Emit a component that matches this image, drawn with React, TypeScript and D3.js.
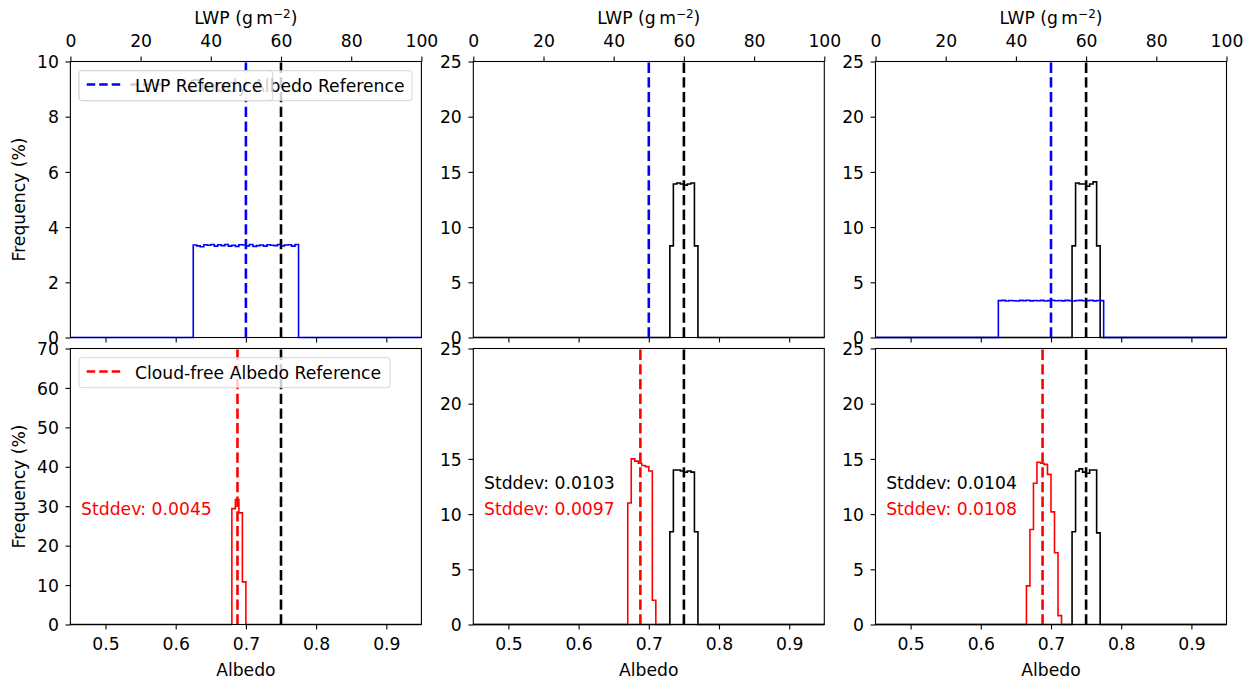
import React, { useEffect, useRef } from "react";
import * as d3 from "d3";

// axis ticks
const albedoTicks = [0.5, 0.6, 0.7, 0.8, 0.9];
const lwpTicks = [0, 20, 40, 60, 80, 100];
const topYTicks = [
  [0, 2, 4, 6, 8, 10],
  [0, 5, 10, 15, 20, 25],
  [0, 5, 10, 15, 20, 25],
];
const bottomYTicks = [
  [0, 10, 20, 30, 40, 50, 60, 70],
  [0, 5, 10, 15, 20, 25],
  [0, 5, 10, 15, 20, 25],
];

// reference lines
const lwpRef = 50;
const albedoRef = 0.75;
const clearRef = 0.688;

// LWP histograms (bins of 1 g m-2 starting at 35)
const lwpStart = 35;
const lwpBin = 1;
const lwpHistA = [
  3.35, 3.32, 3.29, 3.36, 3.34, 3.37, 3.31, 3.36, 3.33, 3.37, 3.31, 3.34, 3.3, 3.36, 3.35,
  3.32, 3.37, 3.3, 3.33, 3.35, 3.31, 3.36, 3.34, 3.33, 3.37, 3.32, 3.35, 3.36, 3.31, 3.37,
];
const lwpHistC = [
  3.34, 3.36, 3.31, 3.35, 3.33, 3.3, 3.36, 3.34, 3.37, 3.32, 3.35, 3.33, 3.36, 3.31, 3.34,
  3.37, 3.33, 3.35, 3.32, 3.36, 3.34, 3.31, 3.35, 3.36, 3.33, 3.34, 3.37, 3.32, 3.35, 3.34,
];

// albedo histograms (bins of 0.005)
const albedoBin = 0.005;
const cloudyStart = 0.73;
const cloudyTopB = [8.3, 13.9, 14.0, 13.9, 13.8, 13.9, 14.0, 8.3];
const cloudyTopC = [8.3, 14.0, 13.9, 13.9, 13.7, 13.9, 14.1, 8.3];
const cloudyBotB = [8.4, 14.0, 14.0, 13.9, 13.8, 13.9, 13.8, 8.4];
const cloudyBotC = [8.4, 13.9, 14.1, 13.8, 13.7, 14.0, 14.0, 8.3];

const clearStartA = 0.68;
const clearHistA = [29.4, 31.7, 28.3, 10.8];
const clearStartB = 0.67;
const clearHistB = [11.0, 15.0, 14.8, 14.6, 14.4, 14.3, 13.9, 2.2];
const clearStartC = 0.665;
const clearHistC = [3.5, 8.6, 12.8, 14.7, 14.6, 14.5, 13.6, 10.2, 6.5, 0.8];

const stdCloudy = ["", "0.0103", "0.0104"];
const stdClear = ["0.0045", "0.0097", "0.0108"];

const FONT = "DejaVu Sans";
const FS = 17.2;
const colLeft = [70.4, 473.3, 875.5];
const panelW = 351;
const rowTop = [61.5, 348.5];
const panelH = 276;
const dash = "10.3,4.4";

const stepPoints = (start: number, w: number, vals: number[], lo: number, hi: number) => {
  const pts: [number, number][] = [[lo, 0], [start, 0]];
  vals.forEach((v, i) => {
    pts.push([start + i * w, v]);
    pts.push([start + (i + 1) * w, v]);
  });
  pts.push([start + vals.length * w, 0]);
  pts.push([hi, 0]);
  return pts;
};

type Hist = { start: number; w: number; vals: number[]; color: string; lwp: boolean };

const App = () => {
  const svgRef = useRef<SVGSVGElement>(null);

  useEffect(() => {
    const svg = d3.select(svgRef.current);
    svg.selectAll("*").remove();

    const drawPanel = (row: number, col: number) => {
      const yTicks = row === 0 ? topYTicks[col] : bottomYTicks[col];
      const g = svg.append("g").attr("transform", `translate(${colLeft[col]},${rowTop[row]})`);
      const x = d3.scaleLinear().domain([0.45, 0.95]).range([0, panelW]);
      const xl = d3.scaleLinear().domain([0, 100]).range([0, panelW]);
      const y = d3.scaleLinear().domain([0, yTicks[yTicks.length - 1]]).range([panelH, 0]);

      const hists: Hist[] = [];
      const refs: { v: number; color: string; lwp: boolean }[] = [];
      if (row === 0) {
        if (col === 1) hists.push({ start: cloudyStart, w: albedoBin, vals: cloudyTopB, color: "#000", lwp: false });
        if (col === 2) hists.push({ start: cloudyStart, w: albedoBin, vals: cloudyTopC, color: "#000", lwp: false });
        refs.push({ v: albedoRef, color: "#000", lwp: false });
        if (col === 0) hists.push({ start: lwpStart, w: lwpBin, vals: lwpHistA, color: "#0000ff", lwp: true });
        if (col === 2) hists.push({ start: lwpStart, w: lwpBin, vals: lwpHistC, color: "#0000ff", lwp: true });
        refs.push({ v: lwpRef, color: "#0000ff", lwp: true });
      } else {
        if (col === 1) hists.push({ start: cloudyStart, w: albedoBin, vals: cloudyBotB, color: "#000", lwp: false });
        if (col === 2) hists.push({ start: cloudyStart, w: albedoBin, vals: cloudyBotC, color: "#000", lwp: false });
        const cs = [clearStartA, clearStartB, clearStartC][col];
        const ch = [clearHistA, clearHistB, clearHistC][col];
        hists.push({ start: cs, w: albedoBin, vals: ch, color: "#ff0000", lwp: false });
        refs.push({ v: albedoRef, color: "#000", lwp: false });
        refs.push({ v: clearRef, color: "#ff0000", lwp: false });
      }

      hists.forEach((h) => {
        const xs = h.lwp ? xl : x;
        const dom = xs.domain();
        const line = d3
          .line<[number, number]>()
          .x((d) => xs(d[0]))
          .y((d) => y(d[1]));
        g.append("path")
          .attr("d", line(stepPoints(h.start, h.w, h.vals, dom[0], dom[1])))
          .attr("fill", "none")
          .attr("stroke", h.color)
          .attr("stroke-width", 1.6);
      });

      refs.forEach((r) => {
        const px = r.lwp ? xl(r.v) : x(r.v);
        g.append("line")
          .attr("x1", px)
          .attr("x2", px)
          .attr("y1", panelH)
          .attr("y2", 0)
          .attr("stroke", r.color)
          .attr("stroke-width", 2.6)
          .attr("stroke-dasharray", dash);
      });

      // axes
      const styleAxis = (a: d3.Selection<SVGGElement, unknown, null, undefined>) => {
        a.select(".domain").remove();
        a.attr("font-family", FONT).attr("font-size", FS);
        a.selectAll("line").attr("stroke", "#000").attr("stroke-width", 1.1);
        a.selectAll("text").attr("fill", "#000");
      };

      const ay = g.append("g").call(d3.axisLeft(y).tickValues(yTicks).tickSize(4.9).tickFormat(d3.format("d")));
      styleAxis(ay);
      ay.selectAll("text").attr("x", -11.5).attr("dy", "0.36em");

      const ab = g
        .append("g")
        .attr("transform", `translate(0,${panelH})`)
        .call(d3.axisBottom(x).tickValues(albedoTicks).tickSize(4.9).tickFormat(d3.format(".1f")));
      styleAxis(ab);
      if (row === 0) ab.selectAll("text").remove();
      else ab.selectAll("text").attr("y", 25.5).attr("dy", null);

      if (row === 0) {
        const at = g.append("g").call(d3.axisTop(xl).tickValues(lwpTicks).tickSize(4.9).tickFormat(d3.format("d")));
        styleAxis(at);
        at.selectAll("text").attr("y", -15).attr("dy", null);

        const lab = g
          .append("text")
          .attr("x", panelW / 2)
          .attr("y", -37.5)
          .attr("text-anchor", "middle")
          .attr("font-family", FONT)
          .attr("font-size", FS);
        lab.append("tspan").text("LWP (g\u2009m");
        lab.append("tspan").attr("dy", -6.5).attr("font-size", 12).text("\u22122");
        lab.append("tspan").attr("dy", 6.5).text(")");
      } else {
        g.append("text")
          .attr("x", panelW / 2)
          .attr("y", panelH + 51)
          .attr("text-anchor", "middle")
          .attr("font-family", FONT)
          .attr("font-size", FS)
          .text("Albedo");

        if (stdCloudy[col]) {
          g.append("text")
            .attr("x", 10.7)
            .attr("y", 140.5)
            .attr("font-family", FONT)
            .attr("font-size", FS)
            .attr("fill", "#000")
            .text(`Stddev: ${stdCloudy[col]}`);
        }
        g.append("text")
          .attr("x", 10.7)
          .attr("y", 166.5)
          .attr("font-family", FONT)
          .attr("font-size", FS)
          .attr("fill", "#ff0000")
          .text(`Stddev: ${stdClear[col]}`);
      }

      if (col === 0) {
        g.append("text")
          .attr("transform", `translate(${-45.4},${panelH / 2}) rotate(-90)`)
          .attr("text-anchor", "middle")
          .attr("font-family", FONT)
          .attr("font-size", FS)
          .text("Frequency (%)");
      }

      // legends
      const legend = (x0: number, x1: number, color: string, label: string, hx: number, tx: number, anchor = "start") => {
        g.append("rect")
          .attr("x", x0)
          .attr("y", 9.2)
          .attr("width", x1 - x0)
          .attr("height", 30)
          .attr("rx", 3)
          .attr("fill", "#fff")
          .attr("fill-opacity", 0.8)
          .attr("stroke", "#cccccc")
          .attr("stroke-opacity", 0.8);
        g.append("line")
          .attr("x1", hx)
          .attr("x2", hx + 34)
          .attr("y1", 23)
          .attr("y2", 23)
          .attr("stroke", color)
          .attr("stroke-width", 2.6)
          .attr("stroke-dasharray", "8.5,4");
        g.append("text")
          .attr("x", tx)
          .attr("y", 30)
          .attr("text-anchor", anchor)
          .attr("font-family", FONT)
          .attr("font-size", FS)
          .text(label);
      };

      if (col === 0 && row === 0) {
        legend(8.6, 341.6, "#000", "Cloudy Albedo Reference", 60, 334.1, "end");
        legend(8.6, 202.3, "#0000ff", "LWP Reference", 16.3, 64.6);
      }
      if (col === 0 && row === 1) {
        legend(8.6, 319.6, "#ff0000", "Cloud-free Albedo Reference", 16.3, 64.6);
      }

      // spines
      g.append("rect")
        .attr("x", 0)
        .attr("y", 0)
        .attr("width", panelW)
        .attr("height", panelH)
        .attr("fill", "none")
        .attr("stroke", "#000")
        .attr("stroke-width", 1.1);
    };

    [0, 1].forEach((r) => [0, 1, 2].forEach((c) => drawPanel(r, c)));
  }, []);

  return (
    <div style={{ position: "absolute", left: 0, top: 0 }}>
      <svg ref={svgRef} width={1250} height={678} style={{ display: "block", background: "#fff" }}></svg>
    </div>
  );
};

export default App;
